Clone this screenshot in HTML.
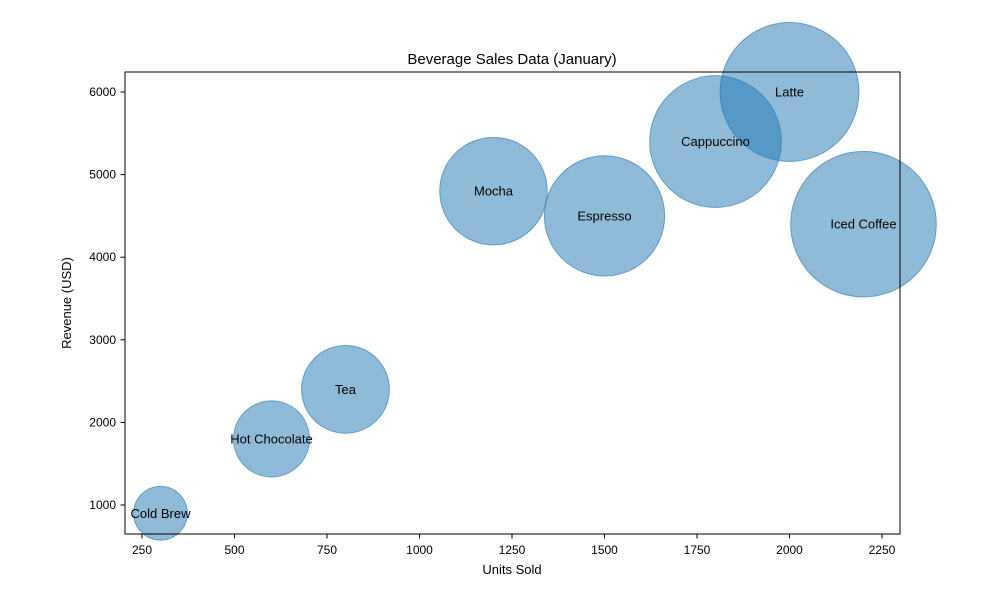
<!DOCTYPE html>
<html><head><meta charset="utf-8"><style>
body{margin:0;background:#fff;font-family:"Liberation Sans","DejaVu Sans",sans-serif}
</style></head><body>
<svg id="chart" width="1000" height="600" xmlns="http://www.w3.org/2000/svg" font-family="Liberation Sans, DejaVu Sans, sans-serif">
<rect width="1000" height="600" fill="#fff"/>
<text x="512" y="64" text-anchor="middle" font-size="15">Beverage Sales Data (January)</text>
<text x="512" y="574" text-anchor="middle" font-size="13">Units Sold</text>
<text transform="translate(71,303) rotate(-90)" text-anchor="middle" font-size="13">Revenue (USD)</text>
<g id="ticks"></g>
<g id="marks"></g>
<rect x="125" y="72" width="775" height="462" fill="none" stroke="#000" stroke-width="1"/>
</svg>
<script>
const names=["Cold Brew","Hot Chocolate","Tea","Mocha","Espresso","Cappuccino","Latte","Iced Coffee"];
const units=[300,600,800,1200,1500,1800,2000,2200];
const revenue=[900,1800,2400,4800,4500,5400,6000,4400];
const sizes=[1500,3000,4000,6000,7500,9000,10000,11000];
const xTicks=[250,500,750,1000,1250,1500,1750,2000,2250];
const yTicks=[1000,2000,3000,4000,5000,6000];
const NS="http://www.w3.org/2000/svg";
function x(v){return 142+(v-250)*0.37;}
function y(v){return 505-(v-1000)*0.0826;}
function r(s){return Math.sqrt(s)/2*100/72;}
function mk(t,a){const e=document.createElementNS(NS,t);for(const k in a)e.setAttribute(k,a[k]);return e;}
const tg=document.getElementById('ticks'),mg=document.getElementById('marks');
xTicks.forEach(v=>{
 const l=mk('line',{x1:x(v),x2:x(v),y1:534,y2:538.5,stroke:'#000'});
 
 
 tg.appendChild(l);
 const t=mk('text',{x:x(v),y:554,'text-anchor':'middle','font-size':'12'});
 
 
 t.textContent=v;tg.appendChild(t);
});
yTicks.forEach(v=>{
 const l=mk('line',{x1:120.5,x2:125,y1:y(v),y2:y(v),stroke:'#000'});
 
 
 tg.appendChild(l);
 const t=mk('text',{x:116,y:y(v)+4,'text-anchor':'end','font-size':'12'});
 
 
 t.textContent=v;tg.appendChild(t);
});
names.forEach((n,i)=>{
 const c=mk('circle',{cx:x(units[i]),cy:y(revenue[i]),r:r(sizes[i]),fill:'#1f77b4','fill-opacity':0.5,stroke:'#1f77b4','stroke-opacity':0.6,'stroke-width':1});
 
 
 mg.appendChild(c);
});
names.forEach((n,i)=>{
 const t=mk('text',{x:x(units[i]),y:y(revenue[i])+4.5,'text-anchor':'middle','font-size':'13'});
 
 
 t.textContent=n;mg.appendChild(t);
});
</script>
</body></html>
